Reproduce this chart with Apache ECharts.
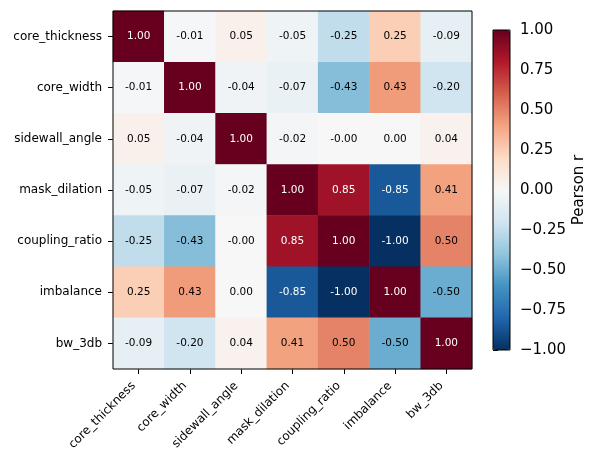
<!DOCTYPE html>
<html>
<head>
<meta charset="utf-8">
<script src="https://cdn.jsdelivr.net/npm/echarts@6/dist/echarts.min.js"></script>
<style>html,body{margin:0;padding:0;background:#fff}#c{width:598px;height:464px}</style>
</head>
<body>
<div id="c"></div>
<script>
const variables = ['core_thickness','core_width','sidewall_angle','mask_dilation','coupling_ratio','imbalance','bw_3db'];
const row_core_thickness = [1.00, -0.01, 0.05, -0.05, -0.25, 0.25, -0.09];
const row_core_width     = [-0.01, 1.00, -0.04, -0.07, -0.43, 0.43, -0.20];
const row_sidewall_angle = [0.05, -0.04, 1.00, -0.02, -0.002, 0.002, 0.04];
const row_mask_dilation  = [-0.05, -0.07, -0.02, 1.00, 0.85, -0.85, 0.41];
const row_coupling_ratio = [-0.25, -0.43, -0.002, 0.85, 1.00, -1.00, 0.50];
const row_imbalance      = [0.25, 0.43, 0.002, -0.85, -1.00, 1.00, -0.50];
const row_bw_3db         = [-0.09, -0.20, 0.04, 0.41, 0.50, -0.50, 1.00];
const colorbarTicks = [-1.00, -0.75, -0.50, -0.25, 0.00, 0.25, 0.50, 0.75, 1.00];

const rows = [row_core_thickness,row_core_width,row_sidewall_angle,row_mask_dilation,row_coupling_ratio,row_imbalance,row_bw_3db];
const rdbu_r = ['#053061','#2166ac','#4393c3','#92c5de','#d1e5f0','#f7f7f7','#fddbc7','#f4a582','#d6604d','#b2182b','#67001f'];
const FONT = 'DejaVu Sans';

const data = [];
rows.forEach((r, yi) => r.forEach((v, xi) => {
  data.push({value: [xi, yi, v], label: {color: Math.abs(v) > 0.6 ? '#ffffff' : '#000000'}});
}));

const chart = echarts.init(document.getElementById('c'), null, {renderer: 'canvas'});
chart.setOption({
  animation: false,
  backgroundColor: '#ffffff',
  textStyle: {fontFamily: FONT},
  grid: [
    {left: 113, top: 11, width: 359, height: 358, show: true, borderColor: '#000', borderWidth: 1, z: 10, backgroundColor: 'transparent'},
    {left: 493, top: 30, width: 17, height: 320, show: true, borderColor: '#000', borderWidth: 1, z: 10, backgroundColor: 'transparent'}
  ],
  xAxis: [
    {type: 'category', gridIndex: 0, data: variables, position: 'bottom',
     axisLine: {show: false},
     axisTick: {show: true, alignWithLabel: true, length: 5, lineStyle: {color: '#000'}},
     axisLabel: {rotate: 45, fontSize: 12, color: '#000', fontFamily: FONT, margin: 10, interval: 0, padding: [0, 7, 0, 0]},
     splitLine: {show: false}},
    {type: 'value', gridIndex: 1, show: false, min: 0, max: 1}
  ],
  yAxis: [
    {type: 'category', gridIndex: 0, data: variables, inverse: true,
     axisLine: {show: false},
     axisTick: {show: true, alignWithLabel: true, length: 5, lineStyle: {color: '#000'}},
     axisLabel: {fontSize: 12, color: '#000', fontFamily: FONT, margin: 11, interval: 0},
     splitLine: {show: false}},
    {type: 'value', gridIndex: 1, position: 'right', min: colorbarTicks[0], max: colorbarTicks[colorbarTicks.length-1], interval: 0.25,
     axisLine: {show: false},
     axisTick: {show: true, length: 5, lineStyle: {color: '#000'}},
     axisLabel: {fontSize: 15, color: '#000', fontFamily: FONT, margin: 10,
       formatter: v => v.toFixed(2).replace('-', '\u2212')},
     splitLine: {show: false},
     name: 'Pearson r', nameLocation: 'middle', nameRotate: 90, nameGap: 62,
     nameTextStyle: {fontSize: 15, color: '#000', fontFamily: FONT}}
  ],
  visualMap: {
    type: 'continuous', min: -1, max: 1, calculable: false, seriesIndex: 0,
    orient: 'vertical', left: 493, top: 30, itemWidth: 17, itemHeight: 320, padding: 0,
    inRange: {color: rdbu_r}, showLabel: false
  },
  series: [{
    type: 'heatmap', xAxisIndex: 0, yAxisIndex: 0, data: data,
    label: {show: true, fontSize: 10.5, fontFamily: FONT, formatter: p => p.value[2].toFixed(2)},
    itemStyle: {borderWidth: 0},
    emphasis: {disabled: true}
  }]
});
</script>
</body>
</html>
